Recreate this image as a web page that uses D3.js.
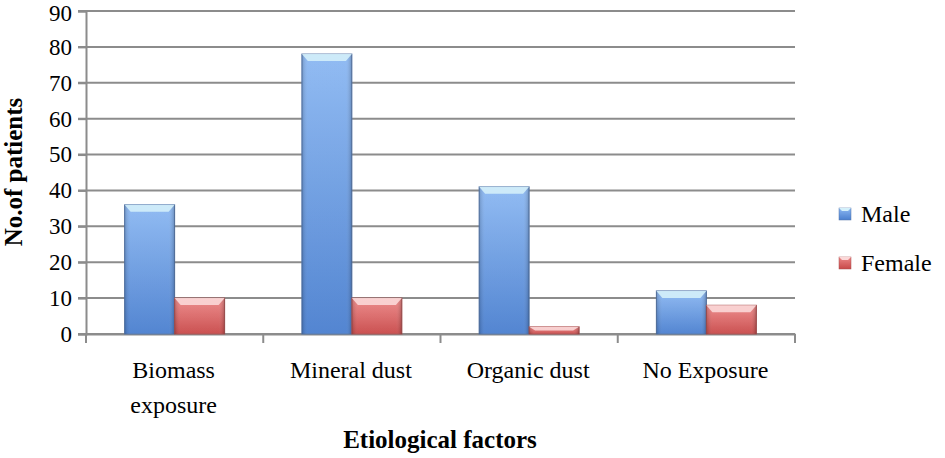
<!DOCTYPE html>
<html>
<head>
<meta charset="utf-8">
<script src="https://cdn.jsdelivr.net/npm/d3@7"></script>
<style>
  body { margin: 0; background: #fff; }
  svg text { font-family: "Liberation Serif", "Times New Roman", Tinos, "DejaVu Serif", serif; fill: #000; }
</style>
</head>
<body>
<svg id="chart"></svg>
<script>
const categories = [["Biomass", "exposure"], ["Mineral dust"], ["Organic dust"], ["No Exposure"]];
const seriesNames = ["Male", "Female"];
const male = [36, 78, 41, 12];
const female = [10, 10, 2, 8];
const yTicks = [0, 10, 20, 30, 40, 50, 60, 70, 80, 90];

const width = 945, height = 458;
const margin = { top: 11, right: 150, bottom: 124, left: 86 };
const serif = '"Liberation Serif", "Times New Roman", Tinos, "DejaVu Serif", serif';
const svg = d3.select('#chart').attr('width', width).attr('height', height);

const x = d3.scaleBand()
    .domain(d3.range(categories.length))
    .range([margin.left, 795]);
const y = d3.scaleLinear().domain([0, 90]).range([334, margin.top]);
const inner = d3.scaleBand().domain(seriesNames).range([0, 100]);

const defs = svg.append('defs');
const colors = {
    Male: { dark: '#4a7fcf', light: '#8cb8f2', top: '#d4f0fa', edge: '#5576a8' },
    Female: { dark: '#c84848', light: '#ec8888', top: '#fbd8d8', edge: '#a85050' }
};
seriesNames.forEach(s => {
    const g = defs.append('linearGradient').attr('id', 'g' + s)
        .attr('x1', 0).attr('y1', 0).attr('x2', 0).attr('y2', 1);
    g.append('stop').attr('offset', '0%').attr('stop-color', colors[s].light);
    g.append('stop').attr('offset', '100%').attr('stop-color', colors[s].dark);
    const h = defs.append('linearGradient').attr('id', 'h' + s)
        .attr('x1', 0).attr('y1', 0).attr('x2', 1).attr('y2', 0);
    h.append('stop').attr('offset', '0%').attr('stop-color', '#000').attr('stop-opacity', 0.18);
    h.append('stop').attr('offset', '12%').attr('stop-color', '#fff').attr('stop-opacity', 0.05);
    h.append('stop').attr('offset', '88%').attr('stop-color', '#fff').attr('stop-opacity', 0.05);
    h.append('stop').attr('offset', '100%').attr('stop-color', '#000').attr('stop-opacity', 0.22);
});

// gridlines
svg.append('g')
    .selectAll('line')
    .data(yTicks)
    .join('line')
    .attr('x1', margin.left - 8)
    .attr('x2', 795)
    .attr('y1', d => y(d))
    .attr('y2', d => y(d))
    .attr('stroke', '#8c8c8c')
    .attr('stroke-width', 2);

// y axis
const yAxis = svg.append('g')
    .attr('transform', `translate(${margin.left},0)`)
    .call(d3.axisLeft(y).tickValues(yTicks).tickSize(8).tickPadding(6));
yAxis.attr('font-family', serif).attr('font-size', 23);
yAxis.select('.domain').attr('stroke', '#8c8c8c').attr('stroke-width', 2);
yAxis.selectAll('.tick line').attr('stroke', '#8c8c8c').attr('stroke-width', 2);
// keep the top label inside the picture
yAxis.selectAll('.tick text').filter(d => d === 90).attr('dy', '0.4em');

// x axis
const xAxis = svg.append('g')
    .attr('transform', `translate(0,${y(0)})`)
    .call(d3.axisBottom(x).tickSize(0).tickFormat(''));
xAxis.select('.domain').attr('stroke', '#8c8c8c').attr('stroke-width', 2);
svg.append('g')
    .selectAll('line')
    .data(d3.range(categories.length + 1))
    .join('line')
    .attr('x1', d => margin.left + d * x.step())
    .attr('x2', d => margin.left + d * x.step())
    .attr('y1', y(0))
    .attr('y2', y(0) + 9)
    .attr('stroke', '#8c8c8c')
    .attr('stroke-width', 2);

// bars
const rows = [];
categories.forEach((c, i) => {
    rows.push({ i, s: 'Male', v: male[i] });
    rows.push({ i, s: 'Female', v: female[i] });
});
const off = (x.bandwidth() - 100) / 2;
const bars = svg.append('g').selectAll('g').data(rows).join('g')
    .attr('transform', d => `translate(${x(d.i) + off + inner(d.s)},${y(d.v)})`);
bars.append('rect')
    .attr('width', inner.bandwidth())
    .attr('height', d => y(0) - y(d.v))
    .attr('fill', d => `url(#g${d.s})`)
    .attr('stroke', d => colors[d.s].edge)
    .attr('stroke-width', 1);
bars.append('rect')
    .attr('width', inner.bandwidth())
    .attr('height', d => y(0) - y(d.v))
    .attr('fill', d => `url(#h${d.s})`);
bars.append('path')
    .attr('d', d => {
        const w = inner.bandwidth();
        const b = Math.min(7, (y(0) - y(d.v)) / 2);
        return `M0,0 L${w},0 L${w - 6},${b} L6,${b} Z`;
    })
    .attr('fill', d => colors[d.s].top)
    .attr('opacity', 0.9);

// category labels
const lab = svg.append('g').selectAll('text').data(categories).join('text')
    .attr('text-anchor', 'middle')
    .attr('font-size', 24)
    .attr('x', (d, i) => x(i) + x.bandwidth() / 2 - 1)
    .attr('y', 378);
lab.selectAll('tspan').data(d => d).join('tspan')
    .attr('x', function () { return this.parentNode.getAttribute('x'); })
    .attr('dy', (d, j) => j === 0 ? 0 : 35)
    .text(d => d);

// axis titles
svg.append('text')
    .attr('x', 440).attr('y', 448)
    .attr('text-anchor', 'middle')
    .attr('font-size', 25).attr('font-weight', 'bold')
    .text('Etiological factors');
svg.append('text')
    .attr('transform', 'translate(22,172) rotate(-90)')
    .attr('text-anchor', 'middle')
    .attr('font-size', 25).attr('font-weight', 'bold')
    .text('No.of patients');

// legend
const leg = svg.append('g').selectAll('g').data(seriesNames).join('g')
    .attr('transform', (d, i) => `translate(839,${208 + i * 49})`);
leg.append('rect').attr('width', 12).attr('height', 12)
    .attr('fill', d => `url(#g${d})`).attr('stroke', d => colors[d].edge).attr('stroke-width', 0.5);
leg.append('path').attr('d', 'M0,0 L12,0 L9,3 L3,3 Z').attr('fill', d => colors[d].top);
leg.append('text').attr('x', 22).attr('y', 14).attr('font-size', 24).text(d => d);
</script>
</body>
</html>
